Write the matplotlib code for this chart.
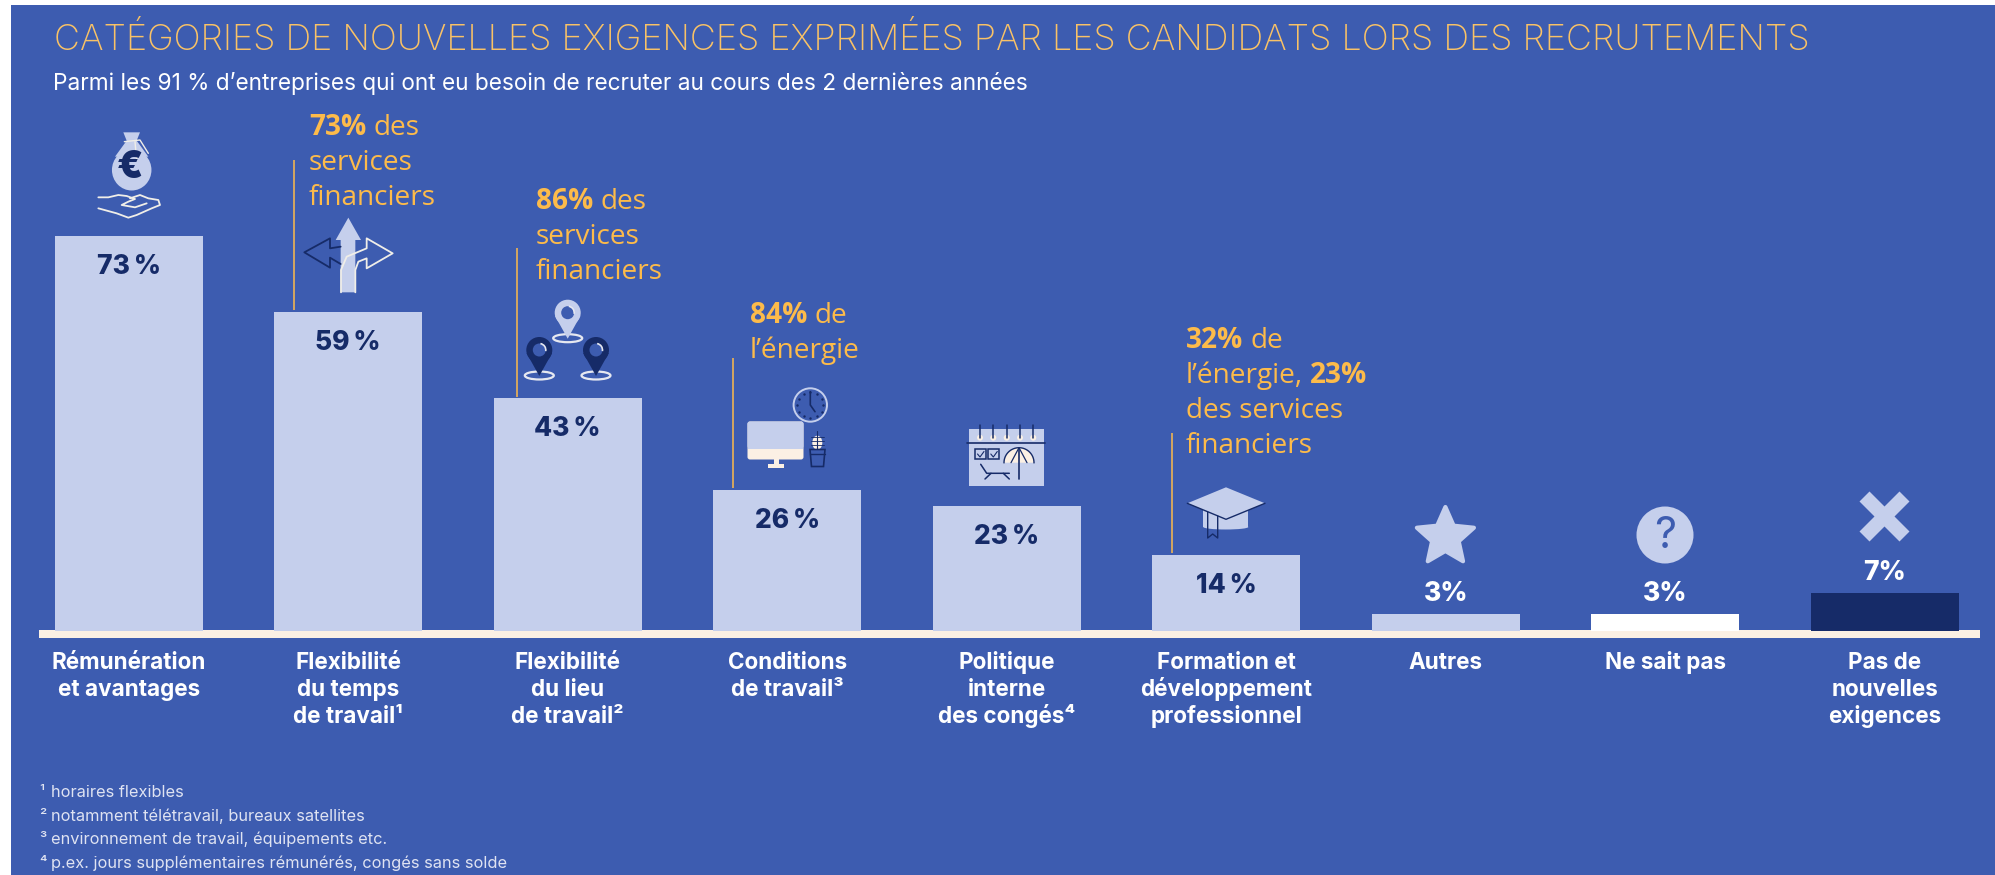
import matplotlib
matplotlib.use('Agg')
import matplotlib.pyplot as plt
import numpy as np
from matplotlib.patches import Rectangle, Circle, Ellipse, Polygon, FancyBboxPatch, Arc

BG = '#3d5cb0'
LIGHT = '#c5cfec'
NAVY = '#162b68'
CREAM = '#fbf0e4'
YELLOW = '#fdbb4a'
TITLE_YELLOW = '#f9c266'

categories = ['Rémunération\net avantages', 'Flexibilité\ndu temps\nde travail¹', 'Flexibilité\ndu lieu\nde travail²',
              'Conditions\nde travail³', 'Politique\ninterne\ndes congés⁴', 'Formation et\ndéveloppement\nprofessionnel',
              'Autres', 'Ne sait pas', 'Pas de\nnouvelles\nexigences']
values = [73, 59, 43, 26, 23, 14, 3, 3, 7]
value_labels = ['73\u2009%', '59\u2009%', '43\u2009%', '26\u2009%', '23\u2009%', '14\u2009%', '3%', '3%', '7%']
bar_colors = [LIGHT, LIGHT, LIGHT, LIGHT, LIGHT, LIGHT, LIGHT, '#ffffff', NAVY]

title = 'CATÉGORIES DE NOUVELLES EXIGENCES EXPRIMÉES PAR LES CANDIDATS LORS DES RECRUTEMENTS'
subtitle = "Parmi les 91 % d’entreprises qui ont eu besoin de recruter au cours des 2 dernières années"
footnotes = ['¹', '²', '³', '⁴']
footnote_texts = ['horaires flexibles', 'notamment télétravail, bureaux satellites',
                  'environnement de travail, équipements etc.', 'p.ex. jours supplémentaires rémunérés, congés sans solde']

# (text, bold) runs per line
note_1 = [[('73%', True), ('des', False)], [('services', False)], [('financiers', False)]]
note_2 = [[('86%', True), ('des', False)], [('services', False)], [('financiers', False)]]
note_3 = [[('84%', True), ('de', False)], [('l’énergie', False)]]
note_4 = [[('32%', True), ('de', False)], [('l’énergie,', False), ('23%', True)], [('des services', False)], [('financiers', False)]]

plt.rcParams['font.family'] = ['Inter', 'DejaVu Sans']
W, H = 1995, 875
PX_PT = 72 / 100

fig = plt.figure(figsize=(W / 100, H / 100), dpi=100, facecolor='white')

# pixel layer for background, icons and call-outs
px = fig.add_axes([0, 0, 1, 1], zorder=1)
px.set_xlim(0, W)
px.set_ylim(H, 0)
px.axis('off')
px.add_patch(Rectangle((11, 5), W - 11, H - 5, color=BG, lw=0))
px.add_patch(Rectangle((39, 630.3), 1941, 7.4, color=CREAM, lw=0))

# chart layer: one unit = one category, y in percent
X0, STEP = 128.7, 219.5
Y0, SCALE = 630.5, 5.4
ax = fig.add_axes([0, 0, 1, 1], zorder=2)
ax.patch.set_alpha(0)
ax.axis('off')
ax.set_xlim(-X0 / STEP, (W - X0) / STEP)
ax.set_ylim((Y0 - H) / SCALE, Y0 / SCALE)

x = np.arange(len(values))
ax.bar(x, values, width=0.674, color=bar_colors, lw=0)

for i, v in enumerate(values):
    if v > 10:
        ax.annotate(value_labels[i], (i, v), xytext=(0, -31 * PX_PT), textcoords='offset points', ha='center',
                    va='center', fontsize=19, fontweight='heavy', color=NAVY)
    else:
        ax.annotate(value_labels[i], (i, v), xytext=(0, 20 * PX_PT), textcoords='offset points', ha='center',
                    va='center', fontsize=19, fontweight='heavy', color='white')
    for k, line in enumerate(categories[i].split('\n')):
        ax.annotate(line, (i, 0), xytext=(0, -(38.5 + 27 * k) * PX_PT), textcoords='offset points', ha='center',
                    va='baseline', fontsize=16.2, fontweight='bold', color='white')

px.text(54, 50, title, fontsize=25.85, color=TITLE_YELLOW, fontweight='light', va='baseline')
px.text(53, 90, subtitle, fontsize=16.3, color='white', va='baseline')
for k, note in enumerate(footnote_texts):
    px.text(39, 797 + 23.6 * k, footnotes[k], fontsize=11.8, color='#dfe3f2', va='baseline')
    px.text(51, 797 + 23.6 * k, note, fontsize=11.8, color='#dfe3f2', va='baseline')

renderer = fig.canvas.get_renderer()


def draw_note(lines, x0, y0, line_x, line_top, line_bottom):
    px.plot([line_x, line_x], [line_top, line_bottom], color=YELLOW, lw=1.1, solid_capstyle='butt')
    for k, runs in enumerate(lines):
        cur = x0
        for text, bold in runs:
            t = px.text(cur, y0 + 35 * k, text, fontsize=20.2, color=YELLOW, va='baseline',
                        family=['Open Sans', 'DejaVu Sans'], fontweight='bold' if bold else 'normal')
            cur += t.get_window_extent(renderer).width + 7


draw_note(note_1, 309, 135, 294, 160, 310)
draw_note(note_2, 536, 209, 516.5, 248, 397)
draw_note(note_3, 750, 323, 733, 358, 488)
draw_note(note_4, 1186, 348, 1172, 433, 553)


def z(points, ox, oy):
    # zoomed crop coordinates to figure pixels
    return [(ox + a / 3, oy + b / 3) for a, b in points]


def stroke(points, color, lw=1.3):
    xs, ys = zip(*points)
    px.plot(xs, ys, color=color, lw=lw, solid_capstyle='round', solid_joinstyle='round')


# money bag
px.add_patch(Ellipse((131.7, 170), 39.5, 41, color=LIGHT, lw=0))
neck = [(130, 37), (180, 37), (170, 62), (205, 110), (105, 110), (140, 62)]
px.add_patch(Polygon(z(neck, 80, 120), color=LIGHT, lw=0))
px.text(130, 168, '€', fontsize=27, fontweight='black', color=NAVY, ha='center', va='center')
stroke(z([(133, 65), (180, 60), (205, 100)], 80, 120), '#f0eee8', 1)
stroke(z([(165, 65), (170, 120)], 80, 120), '#f0eee8', 1)
stroke(z([(55, 232), (85, 232), (115, 225), (140, 228), (165, 237), (145, 245), (125, 255), (165, 262), (200, 250)], 80, 120), '#f0eee8')
stroke(z([(150, 235), (180, 225), (205, 235), (235, 240), (240, 255), (215, 265), (170, 285), (145, 293), (110, 280), (55, 265)], 80, 120), '#f0eee8')

# arrows
stroke(z([(782, 380), (750, 385), (750, 355), (673, 397), (750, 443), (750, 413), (782, 432)], 80, 120), NAVY)
up = [(805, 293), (843, 360), (826, 360), (826, 517), (782, 517), (782, 360), (767, 360)]
px.add_patch(Polygon(z(up, 80, 120), color=LIGHT, lw=0))
stroke(z([(783, 517), (783, 450), (800, 410), (860, 385), (860, 355), (938, 400), (860, 445), (860, 415), (835, 425), (826, 450), (826, 517)], 80, 120), '#f0eee8')


def pin(cx, cy, face):
    px.add_patch(Ellipse((cx, cy + 25.5), 29, 8, fc='none', ec='#e6e8f0', lw=1.6))
    px.add_patch(Polygon([(cx - 12.8, cy + 3), (cx, cy + 26), (cx + 12.8, cy + 3)], color=face, lw=0))
    px.add_patch(Circle((cx, cy), 13, color=face, lw=0))
    px.add_patch(Circle((cx, cy), 6.5, color=BG, lw=0))
    px.add_patch(Arc((cx, cy), 13, 13, theta1=-80, theta2=10, color='#e6e8f0', lw=1.2))


pin(567.7, 312.7, LIGHT)
pin(539.3, 350, NAVY)
pin(596, 350, NAVY)

# monitor, clock and plant
px.add_patch(FancyBboxPatch((750, 424), 51, 33, boxstyle='round,pad=2.5', fc=CREAM, lw=0))
px.add_patch(FancyBboxPatch((750, 424), 51, 22, boxstyle='round,pad=2.5', fc=LIGHT, lw=0))
px.add_patch(Rectangle((747.7, 444), 55.6, 5.3, color=LIGHT, lw=0))
px.add_patch(Rectangle((774.3, 459), 4.7, 5, color=CREAM, lw=0))
px.add_patch(Rectangle((768.3, 464), 16, 4, color=CREAM, lw=0))
px.add_patch(Circle((810.3, 405), 16.7, fc='none', ec=LIGHT, lw=1.4))
stroke([(810.3, 391.7), (810.3, 405), (815, 411.7)], NAVY, 1.2)
for a in np.arange(0, 2 * np.pi, np.pi / 6):
    px.plot(810.3 + 13 * np.cos(a), 405 + 13 * np.sin(a), '.', color=NAVY, ms=1.5)
px.add_patch(Ellipse((817.3, 442.7), 10, 14, color=CREAM, lw=0))
stroke([(817.3, 431), (817.3, 449)], NAVY, 0.8)
for yy in (437, 441, 445):
    stroke([(811, yy), (824, yy)], NAVY, 0.6)
px.add_patch(Polygon([(810, 449.5), (825, 449.5), (823.5, 466.5), (811.5, 466.5)], fc='none', ec=NAVY, lw=1.2))
stroke([(810, 454), (825, 454)], NAVY, 1)

# calendar
px.add_patch(Rectangle((968.7, 429.3), 75, 56.4, color=LIGHT, lw=0))
stroke([(967.3, 443.3), (1045, 443.3)], NAVY, 1.2)
for xx in (980, 993.3, 1006.7, 1020, 1033.3):
    px.add_patch(Circle((xx, 437.7), 3, color=CREAM, lw=0))
    stroke([(xx, 425), (xx, 437.7)], NAVY, 1.1)
for xx in (975, 988.3):
    px.add_patch(Rectangle((xx, 449.3), 10.5, 10, fc='none', ec=NAVY, lw=1.1))
    stroke([(xx + 2.5, 454), (xx + 5, 457), (xx + 9, 451.5)], NAVY, 0.8)
t = np.linspace(np.pi, 2 * np.pi, 30)
px.fill(1019 + 15 * np.cos(t), 462.7 + 15 * np.sin(t), color=CREAM, lw=0)
px.plot(1019 + 15 * np.cos(t), 462.7 + 15 * np.sin(t), color=NAVY, lw=1)
for dx in (-8, 8):
    stroke([(1019, 447.7), (1019 + dx, 462.7)], NAVY, 0.9)
stroke([(1019, 447.7), (1019, 479)], NAVY, 1.2)
stroke([(980.7, 464.3), (986.7, 473.3), (1009.3, 473.3), (1009.3, 473.3)], NAVY, 1.1)
stroke([(985, 479), (991, 473.3)], NAVY, 1.1)
stroke([(1009.3, 479), (1003.3, 473.3)], NAVY, 1.1)

# graduation cap
px.add_patch(Rectangle((1203.3, 508), 45, 19, color=LIGHT, lw=0))
px.add_patch(Ellipse((1225.8, 527), 45, 5, color=LIGHT, lw=0))
px.add_patch(Polygon([(1226, 487.3), (1265, 503.3), (1226, 519.3), (1187.3, 503.3)], color=LIGHT, lw=0))
stroke([(1187.3, 503.3), (1226, 519.3), (1265, 503.3)], NAVY, 1)
stroke([(1207.7, 512), (1207.7, 538), (1212.7, 534), (1217.7, 538), (1217.7, 516)], NAVY, 1)

# star, question mark, cross
a = np.pi / 2 + np.arange(10) * np.pi / 5
r = np.where(np.arange(10) % 2 == 0, 30, 14)
px.add_patch(Polygon(np.c_[1445.4 + r * np.cos(a), 537 - r * np.sin(a)], fc=LIGHT, ec=LIGHT, lw=3, joinstyle='round'))
px.add_patch(Circle((1665, 535), 28.5, color=LIGHT, lw=0))
px.text(1665, 536, '?', fontsize=31, color=BG, ha='center', va='center')
cx, cy, o, w = 1884.5, 516.5, 25, 10
px.add_patch(Polygon([(cx - o + w, cy - o), (cx, cy - w), (cx + o - w, cy - o), (cx + o, cy - o + w), (cx + w, cy),
                      (cx + o, cy + o - w), (cx + o - w, cy + o), (cx, cy + w), (cx - o + w, cy + o), (cx - o, cy + o - w),
                      (cx - w, cy), (cx - o, cy - o + w)], color=LIGHT, lw=0))

fig.savefig('out.png', dpi=100, facecolor='white')
